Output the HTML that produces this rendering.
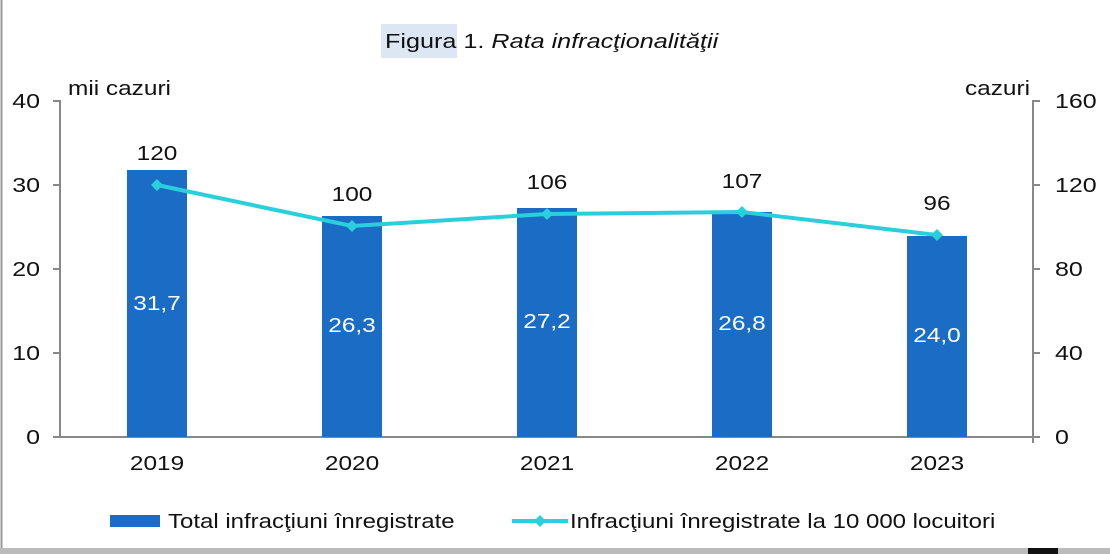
<!DOCTYPE html>
<html><head><meta charset="utf-8"><style>
body{margin:0;background:#fff;}
svg{display:block;font-family:"Liberation Sans",Arial,sans-serif;}
</style></head><body>
<svg width="1110" height="554" viewBox="0 0 1110 554">
<rect x="0" y="0" width="1110" height="554" fill="#fff"/>
<line x1="1.5" y1="0" x2="1.5" y2="548" stroke="#999" stroke-width="2"/>
<rect x="0" y="548" width="1110" height="6" fill="#bbb"/>
<rect x="1028" y="548" width="30" height="6" fill="#111"/>
<rect x="381" y="24" width="76" height="34" fill="#dde6f3"/>
<text transform="translate(385,48) scale(1.26,1)" font-size="20" fill="#111">Figura 1. <tspan font-style="italic">Rata infracţionalităţii</tspan></text>
<text transform="translate(68,95) scale(1.22,1)" font-size="20" fill="#111">mii cazuri</text>
<text transform="translate(1030,95) scale(1.22,1)" font-size="20" fill="#111" text-anchor="end">cazuri</text>
<g stroke="#888" stroke-width="2">
<line x1="60" y1="100" x2="60" y2="437"/>
<line x1="60" y1="437" x2="1033" y2="437"/>
<line x1="1033" y1="100" x2="1033" y2="443"/>
<line x1="53" y1="101" x2="60" y2="101"/><line x1="53" y1="185" x2="60" y2="185"/><line x1="53" y1="269" x2="60" y2="269"/><line x1="53" y1="353" x2="60" y2="353"/><line x1="53" y1="437" x2="60" y2="437"/>
<line x1="1033" y1="101" x2="1040" y2="101"/><line x1="1033" y1="185" x2="1040" y2="185"/><line x1="1033" y1="269" x2="1040" y2="269"/><line x1="1033" y1="353" x2="1040" y2="353"/><line x1="1033" y1="437" x2="1040" y2="437"/>
</g>
<g font-size="20" fill="#111" text-anchor="end">
<text transform="translate(40,108) scale(1.25,1)">40</text><text transform="translate(40,192) scale(1.25,1)">30</text><text transform="translate(40,276) scale(1.25,1)">20</text><text transform="translate(40,360) scale(1.25,1)">10</text><text transform="translate(40,444) scale(1.25,1)">0</text>
</g>
<g font-size="20" fill="#111">
<text transform="translate(1055,108) scale(1.25,1)">160</text><text transform="translate(1055,192) scale(1.25,1)">120</text><text transform="translate(1055,276) scale(1.25,1)">80</text><text transform="translate(1055,360) scale(1.25,1)">40</text><text transform="translate(1055,444) scale(1.25,1)">0</text>
</g>
<g fill="#1a6cc4">
<rect x="127" y="170" width="60" height="267"/>
<rect x="322" y="216" width="60" height="221"/>
<rect x="517" y="208" width="60" height="229"/>
<rect x="712" y="212" width="60" height="225"/>
<rect x="907" y="236" width="60" height="201"/>
</g>
<g font-size="20" fill="#fff" text-anchor="middle">
<text transform="translate(157,310) scale(1.22,1)">31,7</text><text transform="translate(352,332) scale(1.22,1)">26,3</text><text transform="translate(547,328) scale(1.22,1)">27,2</text><text transform="translate(742,330) scale(1.22,1)">26,8</text><text transform="translate(937,342) scale(1.22,1)">24,0</text>
</g>
<polyline points="157,185 352,226 547,214 742,212 937,235" fill="none" stroke="#29d0dc" stroke-width="4"/>
<g fill="#29d0dc">
<path d="M157,179 l6,6 -6,6 -6,-6z"/><path d="M352,220 l6,6 -6,6 -6,-6z"/><path d="M547,208 l6,6 -6,6 -6,-6z"/><path d="M742,206 l6,6 -6,6 -6,-6z"/><path d="M937,229 l6,6 -6,6 -6,-6z"/>
</g>
<g font-size="20" fill="#111" text-anchor="middle">
<text transform="translate(157,160) scale(1.22,1)">120</text><text transform="translate(352,201) scale(1.22,1)">100</text><text transform="translate(547,189) scale(1.22,1)">106</text><text transform="translate(742,188) scale(1.22,1)">107</text><text transform="translate(937,210) scale(1.22,1)">96</text>
<text transform="translate(157,470) scale(1.22,1)">2019</text><text transform="translate(352,470) scale(1.22,1)">2020</text><text transform="translate(547,470) scale(1.22,1)">2021</text><text transform="translate(742,470) scale(1.22,1)">2022</text><text transform="translate(937,470) scale(1.22,1)">2023</text>
</g>
<rect x="110" y="515" width="50" height="12" fill="#1a6cc4"/>
<text transform="translate(168,528) scale(1.2,1)" font-size="20" fill="#111">Total infracţiuni înregistrate</text>
<line x1="512" y1="521" x2="568" y2="521" stroke="#29d0dc" stroke-width="4"/>
<path d="M540,515 l6,6 -6,6 -6,-6z" fill="#29d0dc"/>
<text transform="translate(570,528) scale(1.2,1)" font-size="20" fill="#111">Infracţiuni înregistrate la 10 000 locuitori</text>
</svg>
</body></html>
